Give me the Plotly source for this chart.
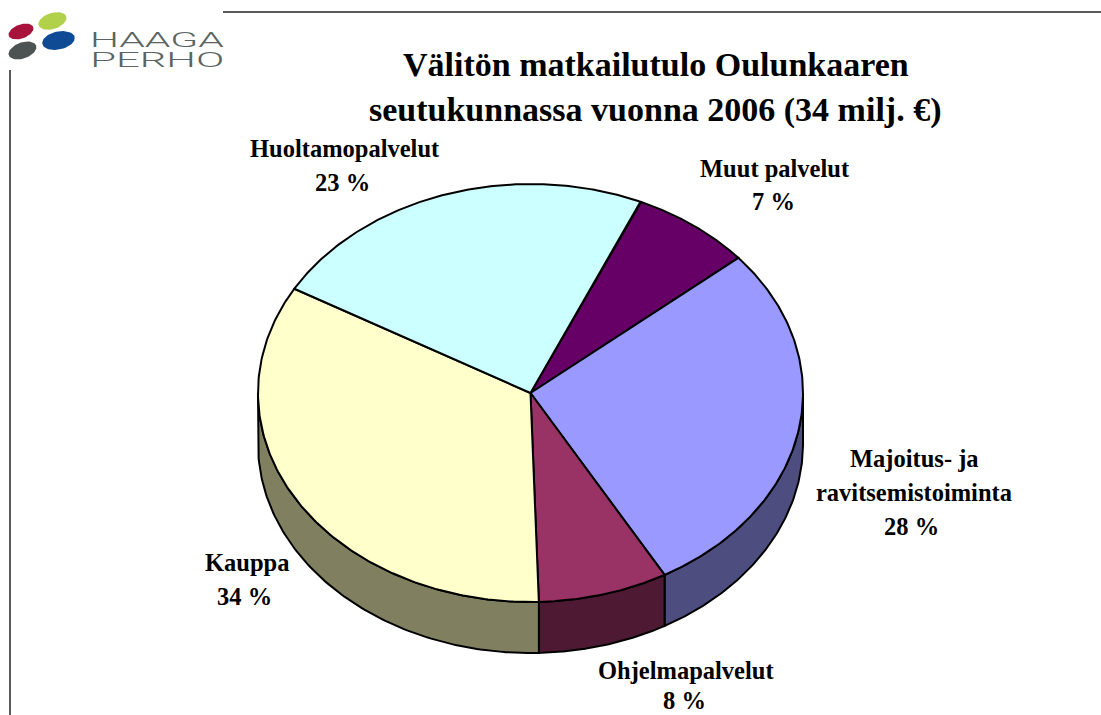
import numpy as np
import plotly.graph_objects as go

categories = ["Muut palvelut", "Majoitus- ja ravitsemistoiminta", "Ohjelmapalvelut", "Kauppa", "Huoltamopalvelut"]
values = [7.2, 28.0, 7.7, 33.8, 23.3]
top_colors = ["#660066", "#9999ff", "#993366", "#ffffcc", "#ccffff"]
side_colors = ["#330033", "#4d4d80", "#4d1933", "#808060", "#668080"]
label_lines = [
    (["Muut palvelut", "7 %"], [775, 773], [168, 201]),
    (["Majoitus- ja", "ravitsemistoiminta", "28 %"], [914, 914, 911], [458, 492, 526]),
    (["Ohjelmapalvelut", "8 %"], [686, 684], [670, 700]),
    (["Kauppa", "34 %"], [247, 244], [562, 596]),
    (["Huoltamopalvelut", "23 %"], [345, 342], [148, 182]),
]
title_lines = [("Välitön matkailutulo Oulunkaaren", 656, 64), ("seutukunnassa vuonna 2006 (34 milj. €)", 655, 110)]

CX, CY, RX, RY, DEPTH = 530.5, 393, 272.5, 209, 51
START = 23.8

def ell(deg, dy=0.0):
    t = np.radians(deg)
    return CX + RX * np.sin(t), CY - RY * np.cos(t) + dy

fig = go.Figure()
edges = START + np.concatenate([[0], np.cumsum(values)]) * 360 / sum(values)

def add_poly(x, y, fill, width=2):
    fig.add_trace(go.Scatter(x=x, y=y, mode="lines", fill="toself", fillcolor=fill,
                             line=dict(color="#000000", width=width), hoverinfo="skip", showlegend=False))

# side wall
for i in range(len(values)):
    a = max(edges[i], 90.0)
    b = min(edges[i + 1], 270.0)
    if b <= a:
        continue
    th = np.linspace(a, b, 120)
    x1, y1 = ell(th)
    x2, y2 = ell(th[::-1], DEPTH)
    add_poly(list(x1) + list(x2) + [x1[0]], list(y1) + list(y2) + [y1[0]], side_colors[i])

# top face
for i in range(len(values)):
    th = np.linspace(edges[i], edges[i + 1], 160)
    x1, y1 = ell(th)
    add_poly([CX] + list(x1) + [CX], [CY] + list(y1) + [CY], top_colors[i])

# logo blobs
logo = [(21, 31.5, 13, 7, 20, "#a8133d"), (52.5, 21, 14.5, 8, 18, "#b2d14a"),
        (58.5, 40.5, 16.5, 9, 12, "#0f4a94"), (22.5, 50.5, 14.5, 8, 20, "#4d5352")]
for bx, by, a, b, rot, col in logo:
    t = np.linspace(0, 2 * np.pi, 60)
    r = np.radians(rot)
    xx = bx + a * np.cos(t) * np.cos(r) + b * np.sin(t) * np.sin(r)
    yy = by - a * np.cos(t) * np.sin(r) + b * np.sin(t) * np.cos(r)
    fig.add_trace(go.Scatter(x=xx, y=yy, mode="lines", fill="toself", fillcolor=col,
                             line=dict(color=col, width=0), hoverinfo="skip", showlegend=False))

anns = []
def txt(s, x, y, size, color="#000000", fam="Liberation Serif", bold=True, weight=None):
    f = dict(family=fam, size=size, color=color)
    if weight:
        f["weight"] = weight
    anns.append(dict(x=x, y=y, xref="x", yref="y", text=f"<b>{s}</b>" if bold else s, showarrow=False,
                     xanchor="center", yanchor="middle", font=f))

for s, x, y in title_lines:
    txt(s, x, y, 34)
for lines, xs, ys in label_lines:
    for s, x, y in zip(lines, xs, ys):
        txt(s, x, y, 24.5)
txt("HAAGA", 157, 40, 19.5, color="#5a6463", fam="Roboto", bold=False, weight=300)
txt("PERHO", 157, 60.5, 19.5, color="#5a6463", fam="Roboto", bold=False, weight=300)

fig.update_layout(
    width=1101, height=715, autosize=False, margin=dict(l=0, r=0, t=0, b=0),
    paper_bgcolor="#ffffff", plot_bgcolor="#ffffff", showlegend=False,
    xaxis=dict(range=[0, 1101], visible=False, fixedrange=True),
    yaxis=dict(range=[715, 0], visible=False, fixedrange=True),
    annotations=anns,
    shapes=[
        dict(type="line", xref="x", yref="y", x0=223, x1=1101, y0=12, y1=12, line=dict(color="#222222", width=1.5)),
        dict(type="line", xref="x", yref="y", x0=10, x1=10, y0=70, y1=715, line=dict(color="#222222", width=1.5)),
    ],
)
post = """
document.body.style.margin='0';
document.documentElement.style.overflow='hidden';
document.querySelectorAll('.annotation-text').forEach(function(t){
  if(t.textContent==='HAAGA'||t.textContent==='PERHO'){
    t.setAttribute('textLength','134');
    t.setAttribute('lengthAdjust','spacingAndGlyphs');
  }
});
"""
fig.write_html("out.html", post_script=post, config=dict(displayModeBar=False))
